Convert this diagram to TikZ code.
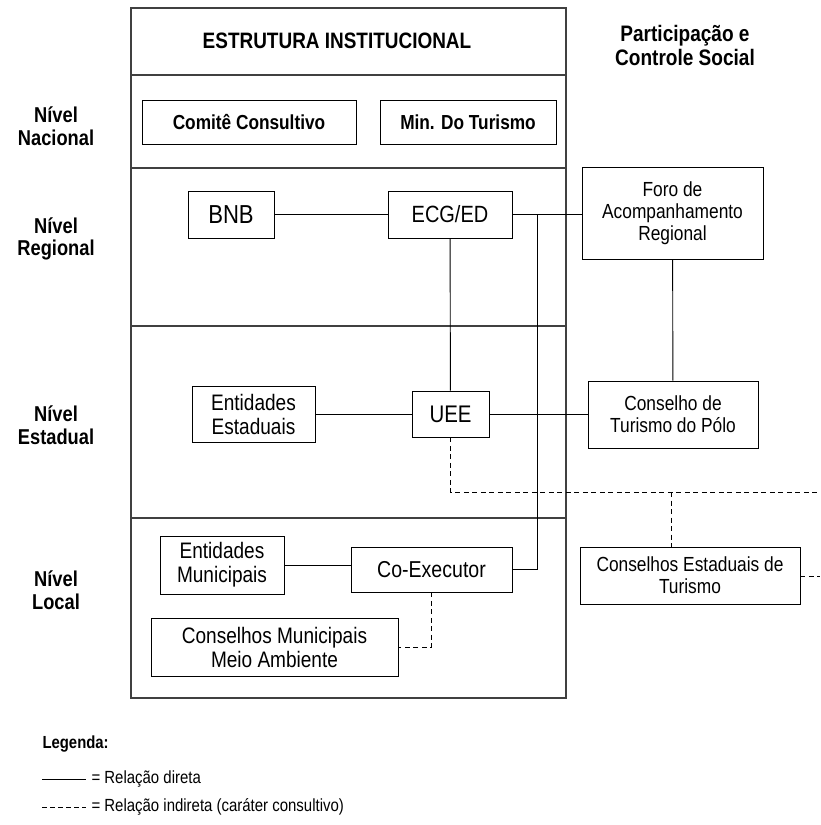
\documentclass[tikz,border=0pt]{standalone}
\usepackage{fontspec}
\setmainfont{Liberation Sans}[FakeStretch=0.85]
\usetikzlibrary{positioning}

\tikzset{
  orgbox/.style={draw, line width=0.9pt, align=center, inner sep=0pt,
    font=\fontsize{20.4}{22}\selectfont},
  boldbox/.style={orgbox, font=\bfseries\fontsize{20.3}{22}\selectfont},
  levellabel/.style={align=center, font=\bfseries\fontsize{21.5}{22.5}\selectfont},
  frameline/.style={line width=1.1pt, draw=black!75},
  direct/.style={line width=0.9pt},
  indirect/.style={line width=0.9pt, dash pattern=on 5pt off 3.5pt}
}

\begin{document}
\begin{tikzpicture}[x=1pt,y=-1pt]
                \useasboundingbox (0,0) rectangle (820,825);

                % Institutional frame and level bands
                \draw[frameline] (131,8) rectangle (566,698);
                \foreach \y in {75,168,326,518}
                    \draw[frameline] (131,\y) -- (566,\y);

                % Headings
                \node[font=\bfseries\fontsize{22.3}{24}\selectfont] (title) at (337,41) {ESTRUTURA INSTITUCIONAL};
                \node[levellabel, font=\bfseries\fontsize{22.4}{24}\selectfont] (social) at (685,45) {Participação e\\Controle Social};

                % Levels
                \node[levellabel] (nacional) at (56,126) {Nível\\Nacional};
                \node[levellabel] (regional) at (56,239) {Nível\\Regional};
                \node[levellabel] (estadual) at (56,425) {Nível\\Estadual};
                \node[levellabel] (local) at (56,590) {Nível\\Local};

                % Boxes
                \node[boldbox, minimum width=214pt, minimum height=44pt] (comite) at (249,122) {Comitê Consultivo};
                \node[boldbox, minimum width=176pt, minimum height=44pt] (minturismo) at (468,122) {Min. Do Turismo};
                \node[orgbox, minimum width=86pt, minimum height=47pt, font=\fontsize{26}{28}\selectfont] (bnb) at (231,214.5) {BNB};
                \node[orgbox, minimum width=124pt, minimum height=47pt, font=\fontsize{23.5}{26}\selectfont] (ecg) at (450,214.5) {ECG/ED};
                \node[orgbox, minimum width=181pt, minimum height=92pt] (foro) at (672.5,213) {Foro de\\Acompanhamento\\Regional};
                \node[orgbox, minimum width=123pt, minimum height=56pt, font=\fontsize{22.4}{24}\selectfont] (entest) at (253.5,414) {Entidades\\Estaduais};
                \node[orgbox, minimum width=77pt, minimum height=46pt, font=\fontsize{24}{26}\selectfont] (uee) at (450.5,414) {UEE};
                \node[orgbox, minimum width=170pt, minimum height=67pt] (polo) at (673,414.5) {Conselho de\\Turismo do Pólo};
                \node[orgbox, minimum width=124pt, minimum height=58pt, font=\fontsize{22.4}{24}\selectfont] (entmun) at (222,565) {Entidades\\Municipais};
                \node[orgbox, minimum width=161pt, minimum height=45pt, font=\fontsize{23}{25}\selectfont] (coexec) at (431.5,569.5) {Co-Executor};
                \node[orgbox, minimum width=247pt, minimum height=58pt, font=\fontsize{22.4}{24}\selectfont] (consmun) at (274.5,647) {Conselhos Municipais\\Meio Ambiente};
                \node[orgbox, minimum width=220pt, minimum height=57pt] (consest) at (690,575.5) {Conselhos Estaduais de\\Turismo};

                % Free ends and junctions
                \coordinate (jct) at (537,214.5);
                \coordinate (dashright) at (820,492);
                \coordinate (dashjct) at (671,492);
                \coordinate (dashend) at (820,576);

                % Direct relations
                \draw[direct] (bnb) -- (ecg);
                \draw[direct] (ecg.east) -- (ecg.east -| foro.west);
                \draw[direct] (coexec.east) -| (jct);
                \draw[direct] (ecg) -- (uee);
                \draw[direct] (foro) -- (polo);
                \draw[direct] (entest) -- (uee);
                \draw[direct] (uee.east) -- (uee.east -| polo.west);
                \draw[direct] (entmun.east) -- (entmun.east -| coexec.west);

                % Indirect relations
                \draw[indirect] (uee.south) |- (dashright);
                \draw[indirect] (dashjct) -- (dashjct |- consest.north);
                \draw[indirect] (consest.east |- dashend) -- (dashend);
                \draw[indirect] (coexec.south) |- (consmun.east);

                % Legend
                \node[anchor=west, font=\bfseries\fontsize{17.5}{19}\selectfont] (legenda) at (39,744) {Legenda:};
                \coordinate (solidA) at (42,779);
                \coordinate (solidB) at (86,779);
                \coordinate (dashA) at (42,807);
                \coordinate (dashB) at (86,807);
                \draw[direct, line width=0.7pt] (solidA) -- (solidB);
                \draw[indirect, line width=0.7pt, dash pattern=on 5pt off 3pt] (dashA) -- (dashB);
                \node[anchor=west, font=\fontsize{17.6}{19}\selectfont] (legdireta) at (88,779) {= Relação direta};
                \node[anchor=west, font=\fontsize{17.6}{19}\selectfont] (legindireta) at (88,807) {= Relação indireta (caráter consultivo)};
            \end{tikzpicture}
\end{document}
